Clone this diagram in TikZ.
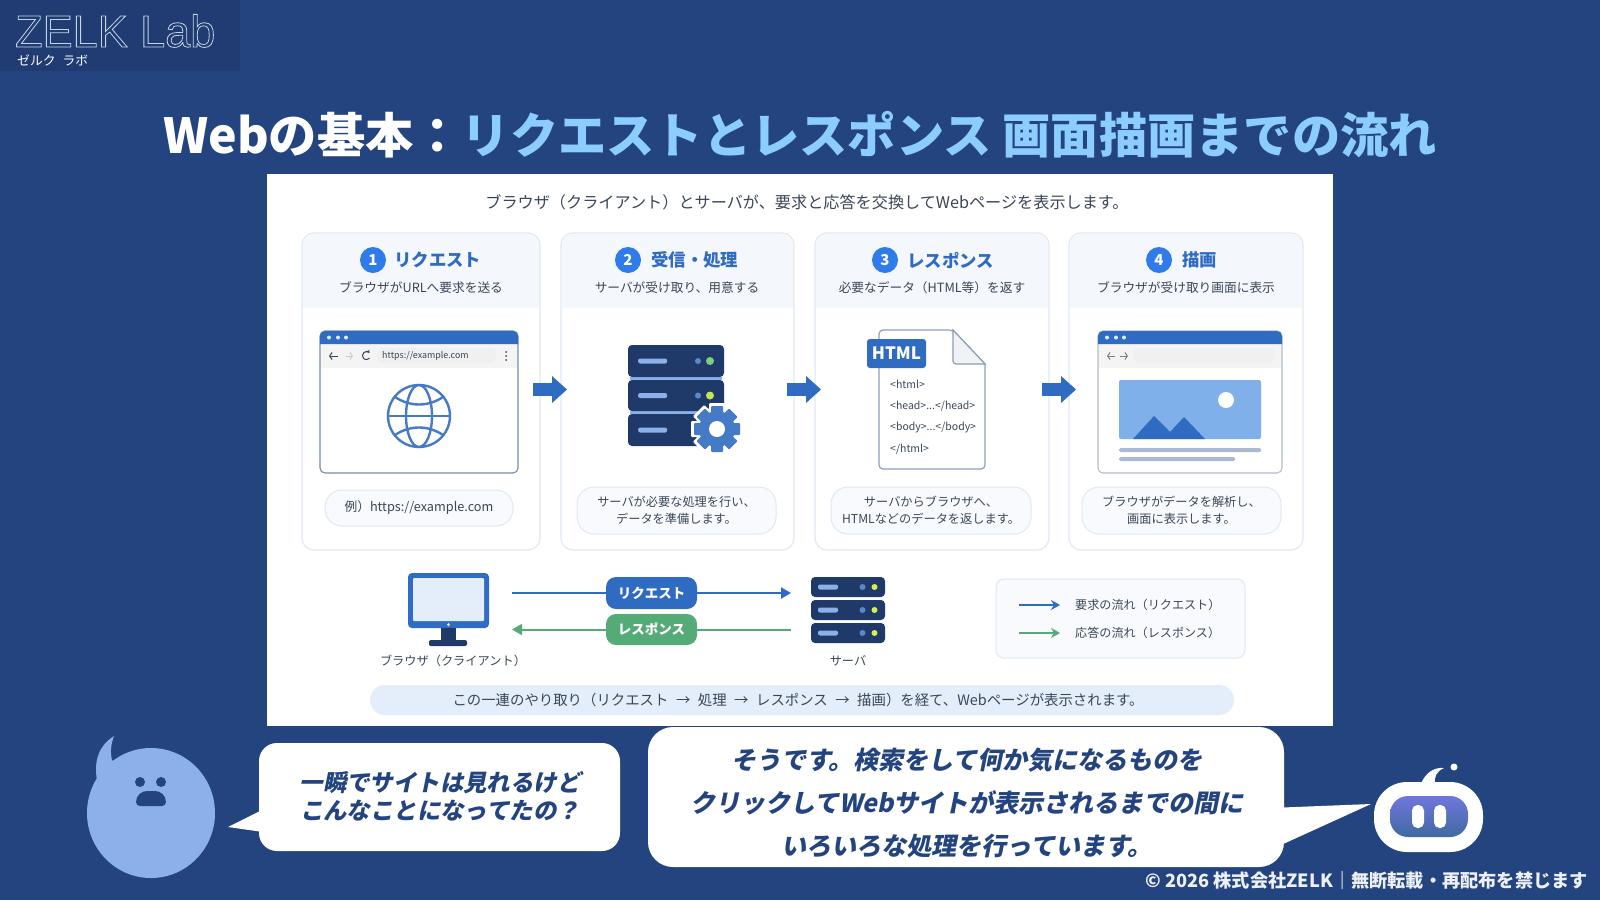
\documentclass[tikz,border=0pt]{standalone}
\usepackage{fontspec}
\setmainfont{Noto Sans CJK JP}
\newfontfamily\bubblefont[FakeSlant=0.2]{Noto Sans CJK JP}
\newfontfamily\logofont{Liberation Sans}
\usetikzlibrary{arrows.meta,calc,shapes.misc}
\definecolor{pagebg}{HTML}{23447E}
\definecolor{logobg}{HTML}{203C73}
\definecolor{titleblue}{HTML}{8CCDFF}
\definecolor{brandblue}{HTML}{2F6BC0}
\definecolor{numblue}{HTML}{2F7BEA}
\definecolor{navy}{HTML}{1F3A68}
\definecolor{cardline}{HTML}{DFE8F4}
\definecolor{headbg}{HTML}{F4F7FC}
\definecolor{pillbg}{HTML}{F8FAFE}
\definecolor{bodytext}{HTML}{3A4657}
\definecolor{flowgreen}{HTML}{55AB78}
\definecolor{skyimg}{HTML}{7FB0EA}
\definecolor{sumbg}{HTML}{E4EEFB}
\definecolor{blob}{HTML}{8CB1EA}
\definecolor{faceTop}{HTML}{7076DC}
\definecolor{faceBot}{HTML}{3F6AA0}
\newcommand{\fs}[2]{\fontsize{#1}{#2}\selectfont}
% Box given by its pixel corners: \pxnode[style]{name}{x1}{y1}{x2}{y2}{text}
\newcommand{\pxnode}[7][]{%
  \node[inner sep=0pt,outer sep=0pt,align=center,
        minimum width={(#5-#3)*1pt},minimum height={(#6-#4)*1pt},#1]
    (#2) at ({(#3+#5)/2},{(#4+#6)/2}) {#7};}
% Card frame with a tinted header band
\newcommand{\card}[3]{%
  \pxnode[cardframe]{#1}{#2}{233}{#3}{550}{}
  \fill[headbg] (#2+1,308) [rounded corners=12pt] -- (#2+1,234) -- (#3-1,234) [sharp corners] -- (#3-1,308) -- cycle;}
% Browser window chrome
\newcommand{\browser}[2]{%
  \pxnode[rounded corners=5pt,draw=#2,line width=1.1pt,fill=white]{win#1}{\winL}{331}{\winR}{473}{}
  \fill[headbg!60!gray!20] (\winL+1,344) rectangle (\winR-1,368);
  \fill[brandblue] (\winL,344) [rounded corners=5pt] -- (\winL,331) -- (\winR,331) [sharp corners] -- (\winR,344) -- cycle;
  \foreach \d in {9,18,26} \fill[white!85!brandblue] (\winL+\d,337.5) circle (2);}
% Server rack unit
\newcommand{\rackunit}[8]{%
  % name x1 y1 x2 y2 slot-length status-radius status-colour
  \pxnode[fill=navy,rounded corners=4pt]{#1}{#2}{#3}{#4}{#5}{}
  \fill[blob,rounded corners=2pt] (#2+#6*0.35,{(#3+#5)/2-2.5}) rectangle (#2+#6*1.35,{(#3+#5)/2+2.5});
  \fill[#8] (#4-#7*3.5,{(#3+#5)/2}) circle (#7);
  \fill[brandblue!80!white] (#4-#7*3.5-12,{(#3+#5)/2}) circle (3);}
\tikzset{
  cardframe/.style={draw=cardline,line width=1.2pt,rounded corners=12pt,fill=white},
  descpill/.style={draw=cardline,line width=1pt,fill=pillbg,rounded corners=17pt,text=bodytext,font=\fs{12.2}{17}},
  numdot/.style={circle,fill=numblue,text=white,inner sep=0pt,minimum size=26pt,font=\fs{15}{15}\bfseries},
  cardhead/.style={anchor=west,inner sep=0pt,text=brandblue,font=\fs{17.4}{17}\bfseries},
  cardsub/.style={inner sep=0pt,text=bodytext,font=\fs{12.7}{14}},
  blockarrow/.style={draw=brandblue,line width=13pt,-{Triangle[length=15pt,width=27pt,line width=0pt]}},
  flowpill/.style={rounded corners=10pt,text=white,font=\fs{13.5}{14}\bfseries},
  toolarrow/.style={line width=1pt,-{Straight Barb[length=2.5pt,width=7pt]}},
  codeline/.style={anchor=west,inner sep=0pt,text=bodytext,font=\fs{10.5}{11}},
  caption/.style={inner sep=0pt,text=bodytext,font=\fs{12.2}{14}},
  speech/.style={inner sep=0pt,align=center,text=pagebg},
}
\begin{document}
\begin{tikzpicture}[x=1pt,y=-1pt]
\useasboundingbox (0,0) rectangle (1600,900);
\fill[pagebg] (0,0) rectangle (1600,900);

% Logo block
\fill[logobg] (0,0) rectangle (240,71);
\node[anchor=base west,inner sep=0pt,text=white] (logo) at (15,47)
  {\logofont\fs{45}{46}\special{pdf:literal direct 1 Tr 0.8 w 0.78 0.83 0.90 RG}ZELK Lab\special{pdf:literal direct 0 Tr}};
\node[anchor=west,inner sep=0pt,text=white] (logosub) at (17,60) {\fs{12.8}{13}ゼルク\hspace{7pt}ラボ};

% Heading
\node[inner sep=0pt,text=white] (heading) at (800,135)
  {\fs{48.25}{50}\bfseries Webの基本：\textcolor{titleblue}{リクエストとレスポンス 画面描画までの流れ}};

% White sheet
\fill[white] (267,174) rectangle (1333,726);
\node[inner sep=0pt,text=bodytext] (lead) at (807,202)
  {\fs{16.15}{17}ブラウザ（クライアント）とサーバが、要求と応答を交換してWebページを表示します。};

% Step cards
\card{c1}{302}{540}
\card{c2}{561}{794}
\card{c3}{815}{1049}
\card{c4}{1069}{1303}

\node[numdot] (n1) at (373,260) {1};
\node[numdot] (n2) at (628,260) {2};
\node[numdot] (n3) at (885,260) {3};
\node[numdot] (n4) at (1159,260) {4};
\node[cardhead] (h1) at (394,260) {リクエスト};
\node[cardhead] (h2) at (651,260) {受信・処理};
\node[cardhead] (h3) at (907,260) {レスポンス};
\node[cardhead] (h4) at (1182,260) {描画};
\node[cardsub] (s1) at (421,288) {ブラウザがURLへ要求を送る};
\node[cardsub] (s2) at (677,288) {サーバが受け取り、用意する};
\node[cardsub] (s3) at (932,288) {必要なデータ（HTML等）を返す};
\node[cardsub] (s4) at (1186,288) {ブラウザが受け取り画面に表示};

% Block arrows between cards
\coordinate (a1s) at (533,389.5); \coordinate (a1e) at (567,389.5);
\coordinate (a2s) at (787,389.5); \coordinate (a2e) at (821,389.5);
\coordinate (a3s) at (1042,389.5); \coordinate (a3e) at (1076,389.5);
\draw[blockarrow] (a1s) -- (a1e);
\draw[blockarrow] (a2s) -- (a2e);
\draw[blockarrow] (a3s) -- (a3e);

% Step 1: browser with globe
\def\winL{320}\def\winR{518}
\browser{a}{brandblue!45!gray!85}
\fill[white!88!gray,rounded corners=5pt] (377,348) rectangle (496,363);
\node[anchor=west,inner sep=0pt,text=bodytext] (url) at (382,356) {\fs{8.9}{9}https://example.com};
\draw[toolarrow,bodytext] (338,356) -- (329,356);
\draw[toolarrow,gray!40] (346,356) -- (353,356);
\draw[line width=1pt,bodytext,{Stealth[length=3pt,width=4pt]}-] (369.5,353) arc (-40:-320:4);
\foreach \d in {352,356,360} \fill[bodytext] (506,\d) circle (1);
\begin{scope}[brandblue!90!white,line width=2.4pt]
  \draw (419,416) circle (31);
  \draw (419,416) ellipse (13 and 31);
  \draw (388,416) -- (450,416);
  \draw (395,397) .. controls (410,407) and (428,407) .. (443,397);
  \draw (395,435) .. controls (410,425) and (428,425) .. (443,435);
\end{scope}
\pxnode[descpill]{p1}{325}{490}{513}{526}{\fs{12.7}{15}\raisebox{-0.5pt}{例）https://example.com}}

% Step 2: server rack with gear
\fill[blob] (630,377) rectangle (722,380);
\fill[blob] (630,411) rectangle (722,414);
\rackunit{r1}{628}{345}{724}{377}{29}{4}{green!45!gray!70!white}
\rackunit{r2}{628}{380}{724}{411}{29}{4}{yellow!70!green!75!white}
\rackunit{r3}{628}{414}{724}{446}{29}{0}{navy}
\foreach \a in {0,45,...,315}
  \fill[white,rotate around={\a:(717,429)},rounded corners=1pt] (709,403) rectangle (725,415);
\fill[white] (717,429) circle (22);
\foreach \a in {0,45,...,315}
  \fill[brandblue!90!white,rotate around={\a:(717,429)},rounded corners=1pt] (711,406) rectangle (723,415);
\fill[brandblue!90!white] (717,429) circle (18);
\fill[white] (717,429) circle (8);
\pxnode[descpill]{p2}{577}{487}{776}{534}{サーバが必要な処理を行い、\\データを準備します。}

% Step 3: HTML document
\draw[draw=brandblue!45!gray!70,fill=white,line width=1.2pt,rounded corners=4pt]
  (879,330) -- (953,330) [sharp corners] -- (985,364) [rounded corners=4pt] -- (985,469) -- (879,469) -- cycle;
\draw[draw=brandblue!45!gray!70,fill=headbg!70!gray!30,line width=1.2pt]
  (953,330) [rounded corners=3pt] -- (953,364) [sharp corners] -- (985,364) -- cycle;
\pxnode[fill=brandblue,rounded corners=3pt,text=white,font=\fs{17}{18}\bfseries]{tag}{867}{339}{926}{368}{HTML}
\node[codeline] (l1) at (890,384) {<html>};
\node[codeline] (l2) at (890,406) {<head>...</head>};
\node[codeline] (l3) at (890,428) {<body>...</body>};
\node[codeline] (l4) at (890,449) {</html>};
\pxnode[descpill]{p3}{831}{487}{1031}{534}{サーバからブラウザへ、\\HTMLなどのデータを返します。}

% Step 4: rendered page
\def\winL{1098}\def\winR{1282}
\browser{b}{brandblue!30!gray!50}
\fill[white!88!gray,rounded corners=4pt] (1134,348) rectangle (1274,363);
\draw[toolarrow,bodytext!70] (1115,356) -- (1107,356);
\draw[toolarrow,bodytext!70] (1120,356) -- (1128,356);
\fill[skyimg,rounded corners=2pt] (1119,380) rectangle (1261,439);
\fill[white] (1226,400) circle (8);
\fill[brandblue] (1133,439) -- (1154,416) -- (1170,432) -- (1184,417) -- (1205,439) -- cycle;
\fill[gray!50!brandblue!50!white,rounded corners=1.5pt] (1119,448) rectangle (1261,452);
\fill[gray!50!brandblue!50!white,rounded corners=1.5pt] (1119,457) rectangle (1235,461);
\pxnode[descpill]{p4}{1082}{487}{1281}{534}{ブラウザがデータを解析し、\\画面に表示します。}

% Client and server exchange
\pxnode[fill=brandblue!92!numblue,rounded corners=4pt]{monitor}{408}{573}{489}{628}{}
\fill[sumbg,rounded corners=1pt] (413,578) rectangle (484,621);
\fill[white] (448.5,624.5) circle (1.5);
\fill[navy] (441,628) rectangle (456,640);
\fill[navy,rounded corners=2pt] (429,640) rectangle (467,646);
\node[caption] (clientlabel) at (453,661) {ブラウザ（クライアント）};

\rackunit{sv1}{811}{577}{885}{597}{20}{3}{yellow!80!green!70!white}
\rackunit{sv2}{811}{600}{885}{620}{20}{3}{yellow!80!green!70!white}
\rackunit{sv3}{811}{623}{885}{643}{20}{3}{yellow!80!green!70!white}
\node[caption] (serverlabel) at (848,661) {サーバ};

\pxnode[fill=brandblue,flowpill]{reqp}{606}{577}{697}{609}{リクエスト}
\pxnode[fill=flowgreen,flowpill]{resp}{606}{614}{697}{645}{レスポンス}
\draw[brandblue,line width=2pt,-{Triangle[length=10pt,width=11pt]}]
  (reqp.east) -- ([xshift=-20pt]sv1.west |- reqp.east);
\draw[brandblue,line width=2pt]
  ([xshift=23pt]monitor.east |- reqp.west) -- (reqp.west);
\draw[flowgreen,line width=2pt,-{Triangle[length=10pt,width=11pt]}]
  (resp.west) -- ([xshift=23pt]monitor.east |- resp.west);
\draw[flowgreen,line width=2pt]
  ([xshift=-20pt]sv3.west |- resp.east) -- (resp.east);

% Legend
\pxnode[draw=cardline,line width=1pt,fill=pillbg,rounded corners=8pt]{legend}{996}{579}{1245}{658}{}
\coordinate (leg1s) at (1019,605); \coordinate (leg1e) at (1060,605);
\coordinate (leg2s) at (1019,633); \coordinate (leg2e) at (1060,633);
\draw[brandblue,line width=2pt,-{Stealth[length=9pt,width=10pt]}] (leg1s) -- (leg1e);
\draw[flowgreen,line width=2pt,-{Stealth[length=9pt,width=10pt]}] (leg2s) -- (leg2e);
\node[caption,anchor=west,font=\fs{12.1}{14}] (legt1) at (1075,605) {要求の流れ（リクエスト）};
\node[caption,anchor=west,font=\fs{12.1}{14}] (legt2) at (1075,633) {応答の流れ（レスポンス）};

% Summary strip
\pxnode[fill=sumbg,rounded corners=15pt,text=bodytext,font=\fs{14.4}{15}]{summary}{370}{685}{1234}{715}
  {この一連のやり取り（リクエスト\hspace{7.5pt}→\hspace{7.5pt}処理\hspace{7.5pt}→\hspace{7.5pt}レスポンス\hspace{7.5pt}→\hspace{7.5pt}描画）を経て、Webページが表示されます。\hspace{8pt}}

% Left speaker
\fill[blob] (114,736) .. controls (100,745) and (92,760) .. (98,785) -- (125,775) -- (112,760) .. controls (110,752) and (111,744) .. (114,736) -- cycle;
\fill[blob] (151,813) ellipse (64 and 65);
\fill[pagebg] (140,782) circle (5);
\fill[pagebg] (161,782) circle (5);
\fill[pagebg,rounded corners=4pt] (136,806) .. controls (136,795) and (142,791) .. (151,791) .. controls (160,791) and (166,795) .. (166,806) -- cycle;

% Left speech balloon
\fill[white] (270,806) -- (228,827) -- (270,833) -- cycle;
\pxnode[fill=white,rounded corners=18pt]{leftbubble}{259}{743}{620}{851}{}
\node[speech,font=\bubblefont\fs{23.4}{28}\bfseries] (lefttext) at (440,796)
  {一瞬でサイトは見れるけど\\こんなことになってたの？};

% Right speech balloon
\fill[white] (1270,808) -- (1371,804) -- (1270,850) -- cycle;
\pxnode[fill=white,rounded corners=25pt]{rightbubble}{648}{727}{1284}{867}{}
\node[speech,font=\bubblefont\fs{25}{43}\bfseries] (righttext) at (967,803)
  {そうです。検索をして何か気になるものを\\クリックしてWebサイトが表示されるまでの間に\\いろいろな処理を行っています。};

% Right speaker
\fill[white] (1421,784) .. controls (1425,773) and (1434,767) .. (1444,768) .. controls (1437,771) and (1434,776) .. (1435,784) -- cycle;
\fill[white] (1454,767) circle (3.5);
\pxnode[fill=white,rounded corners=33pt]{robot}{1374}{782}{1483}{852}{}
\shade[top color=faceTop,bottom color=faceBot,rounded corners=18pt] (1390,796) rectangle (1468,837);
\fill[white,rounded corners=5.5pt] (1412,805) rectangle (1424,828);
\fill[white,rounded corners=5.5pt] (1434,805) rectangle (1446,828);

% Footer
\node[anchor=east,inner sep=0pt,text=white!92!pagebg] (footer) at (1588,881)
  {\fs{18.2}{19}\bfseries © 2026 株式会社ZELK｜無断転載・再配布を禁じます};
\end{tikzpicture}
\end{document}
